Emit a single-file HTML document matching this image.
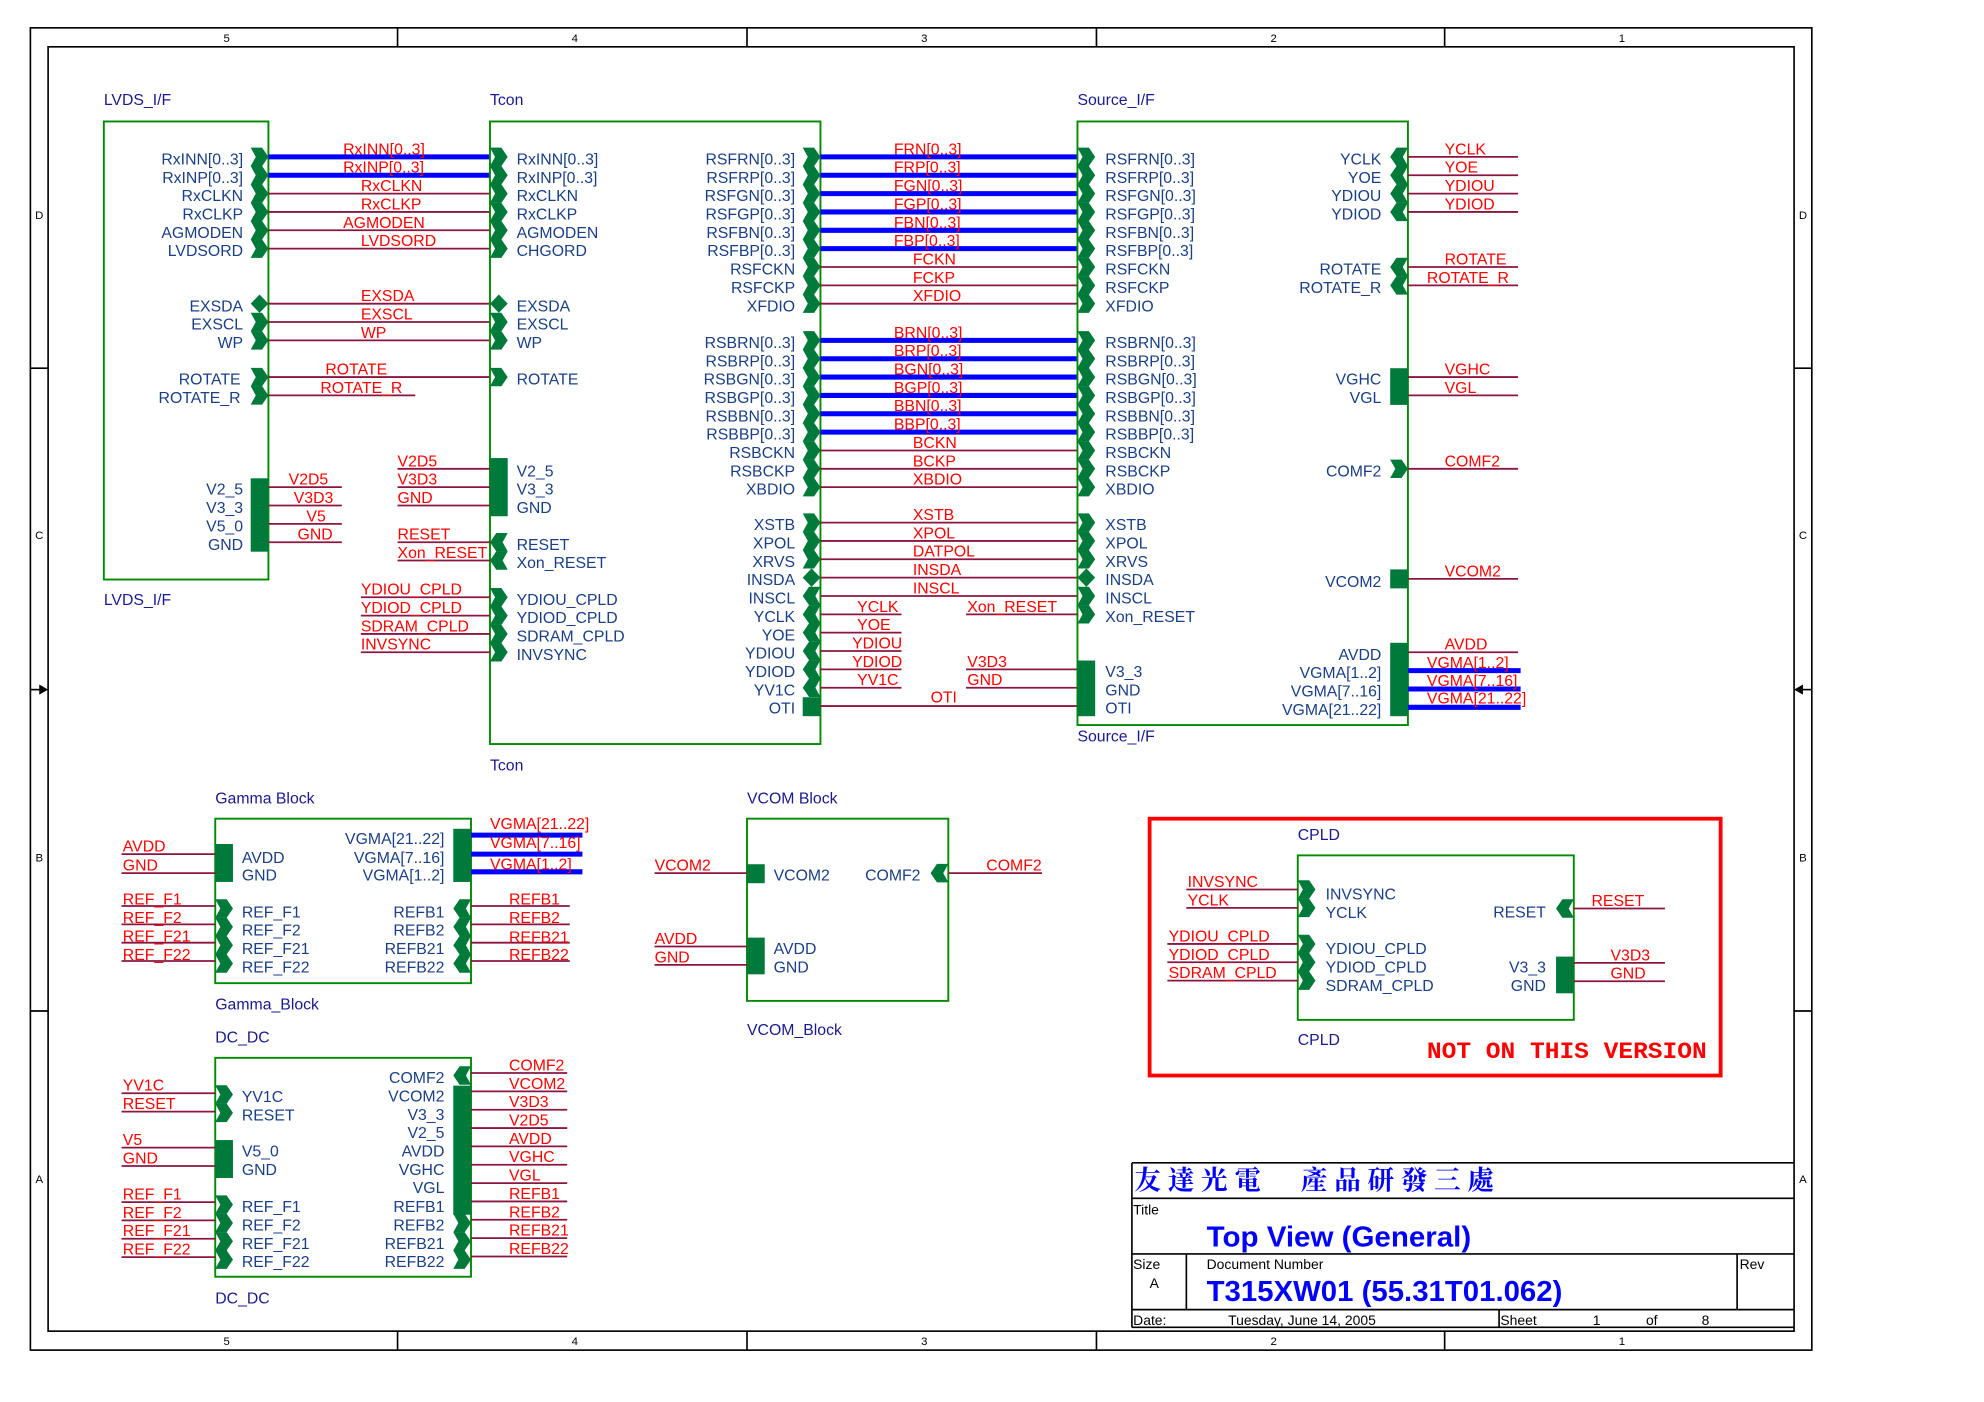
<!DOCTYPE html>
<html><head><meta charset="utf-8"><style>
html,body{margin:0;padding:0;background:#fff;}
svg{display:block;}
text{font-family:"Liberation Sans","Noto Sans CJK TC",sans-serif;font-size:12.5px;}
.b{fill:#1a3f86;}
.t{fill:#1a1a90;}
.r{fill:#ff0000;}
.e{text-anchor:end;}
.k{fill:#000;font-size:9px;text-anchor:middle;}
.w{stroke:#8a1540;stroke-width:1.4;fill:none;}
.bus{stroke:#0000ff;stroke-width:4;fill:none;}
.box{stroke:#008a00;stroke-width:1.5;fill:none;}
.g{fill:#007a3a;}
.f{stroke:#000;stroke-width:1.3;fill:none;}
</style></head><body>
<svg width="1984" height="1402" viewBox="0 0 1567 1108" preserveAspectRatio="none" xmlns="http://www.w3.org/2000/svg">
<defs>
<polygon id="pr" class="g" points="0,-7.3 9,-7.3 14,0 9,7.3 0,7.3 4,0"/>
<polygon id="pl" class="g" points="14,-7.3 5,-7.3 0,0 5,7.3 14,7.3 10,0"/>
<polygon id="pd" class="g" points="0,0 7,-7.3 14,0 7,7.3"/>
</defs>
<rect width="1567" height="1108" fill="#fff"/>
<!-- frame -->
<rect x="24" y="22" width="1407" height="1045" class="f"/>
<rect x="38" y="37" width="1379" height="1015" class="f"/>
<g class="f">
<line x1="314" y1="22" x2="314" y2="37"/><line x1="590" y1="22" x2="590" y2="37"/><line x1="866" y1="22" x2="866" y2="37"/><line x1="1141" y1="22" x2="1141" y2="37"/>
<line x1="314" y1="1052" x2="314" y2="1067"/><line x1="590" y1="1052" x2="590" y2="1067"/><line x1="866" y1="1052" x2="866" y2="1067"/><line x1="1141" y1="1052" x2="1141" y2="1067"/>
<line x1="24" y1="291" x2="38" y2="291"/><line x1="24" y1="799" x2="38" y2="799"/>
<line x1="1417" y1="291" x2="1431" y2="291"/><line x1="1417" y1="799" x2="1431" y2="799"/>
<line x1="24" y1="545" x2="32" y2="545"/><line x1="1423" y1="545" x2="1431" y2="545"/>
</g>
<polygon points="31,541 38,545 31,549" fill="#000"/>
<polygon points="1424,541 1417,545 1424,549" fill="#000"/>
<text x="179" y="33" class="k">5</text><text x="454" y="33" class="k">4</text><text x="730" y="33" class="k">3</text><text x="1006" y="33" class="k">2</text><text x="1281" y="33" class="k">1</text>
<text x="179" y="1063" class="k">5</text><text x="454" y="1063" class="k">4</text><text x="730" y="1063" class="k">3</text><text x="1006" y="1063" class="k">2</text><text x="1281" y="1063" class="k">1</text>
<text x="31" y="173" class="k">D</text><text x="31" y="426" class="k">C</text><text x="31" y="681" class="k">B</text><text x="31" y="935" class="k">A</text>
<text x="1424" y="173" class="k">D</text><text x="1424" y="426" class="k">C</text><text x="1424" y="681" class="k">B</text><text x="1424" y="935" class="k">A</text>

<!-- LVDS_I/F -->
<text x="82" y="83" class="t">LVDS_I/F</text><text x="82" y="478" class="t">LVDS_I/F</text>
<rect x="82" y="96" width="130" height="362" class="box"/>
<g class="b e">
<text x="192" y="130">RxINN[0..3]</text><text x="192" y="144.5">RxINP[0..3]</text><text x="192" y="159">RxCLKN</text><text x="192" y="173.5">RxCLKP</text><text x="192" y="188">AGMODEN</text><text x="192" y="202.5">LVDSORD</text>
<text x="192" y="246">EXSDA</text><text x="192" y="260.5">EXSCL</text><text x="192" y="275">WP</text>
<text x="190" y="304">ROTATE</text><text x="190" y="318.5">ROTATE_R</text>
<text x="192" y="391">V2_5</text><text x="192" y="405.5">V3_3</text><text x="192" y="420">V5_0</text><text x="192" y="434.5">GND</text>
</g>
<use href="#pr" x="198" y="124"/><use href="#pr" x="198" y="138.5"/><use href="#pr" x="198" y="153"/><use href="#pr" x="198" y="167.5"/><use href="#pr" x="198" y="182"/><use href="#pr" x="198" y="196.5"/>
<use href="#pd" x="198" y="240"/><use href="#pr" x="198" y="254.5"/><use href="#pr" x="198" y="269"/>
<use href="#pr" x="198" y="298"/><use href="#pr" x="198" y="312.5"/>
<rect x="198" y="378" width="14" height="58" class="g"/>
<g class="w">
<line x1="212" y1="153" x2="387" y2="153"/><line x1="212" y1="167.5" x2="387" y2="167.5"/><line x1="212" y1="182" x2="387" y2="182"/><line x1="212" y1="196.5" x2="387" y2="196.5"/>
<line x1="212" y1="240" x2="387" y2="240"/><line x1="212" y1="254.5" x2="387" y2="254.5"/><line x1="212" y1="269" x2="387" y2="269"/>
<line x1="212" y1="298" x2="387" y2="298"/><line x1="212" y1="312.5" x2="328" y2="312.5"/>
<line x1="212" y1="385" x2="270" y2="385"/><line x1="212" y1="399.5" x2="270" y2="399.5"/><line x1="212" y1="414" x2="270" y2="414"/><line x1="212" y1="428.5" x2="270" y2="428.5"/>
</g>
<line x1="212" y1="124" x2="387" y2="124" class="bus"/><line x1="212" y1="138.5" x2="387" y2="138.5" class="bus"/>
<g class="r">
<text x="271" y="122">RxINN[0..3]</text><text x="271" y="136.5">RxINP[0..3]</text><text x="285" y="151">RxCLKN</text><text x="285" y="165.5">RxCLKP</text><text x="271" y="180">AGMODEN</text><text x="285" y="194.5">LVDSORD</text>
<text x="285" y="238">EXSDA</text><text x="285" y="252.5">EXSCL</text><text x="285" y="267">WP</text>
<text x="257" y="296">ROTATE</text><text x="253" y="310.5">ROTATE_R</text>
<text x="228" y="383">V2D5</text><text x="232" y="397.5">V3D3</text><text x="242" y="412">V5</text><text x="235" y="426.5">GND</text>
</g>

<!-- Tcon -->
<text x="387" y="83" class="t">Tcon</text><text x="387" y="609" class="t">Tcon</text>
<rect x="387" y="96" width="261" height="492" class="box"/>
<g class="b">
<text x="408" y="130">RxINN[0..3]</text><text x="408" y="144.5">RxINP[0..3]</text><text x="408" y="159">RxCLKN</text><text x="408" y="173.5">RxCLKP</text><text x="408" y="188">AGMODEN</text><text x="408" y="202.5">CHGORD</text>
<text x="408" y="246">EXSDA</text><text x="408" y="260.5">EXSCL</text><text x="408" y="275">WP</text><text x="408" y="304">ROTATE</text>
<text x="408" y="376.5">V2_5</text><text x="408" y="391">V3_3</text><text x="408" y="405.5">GND</text>
<text x="408" y="434.5">RESET</text><text x="408" y="449">Xon_RESET</text>
<text x="408" y="478">YDIOU_CPLD</text><text x="408" y="492.5">YDIOD_CPLD</text><text x="408" y="507">SDRAM_CPLD</text><text x="408" y="521.5">INVSYNC</text>
</g>
<use href="#pr" x="387" y="124"/><use href="#pr" x="387" y="138.5"/><use href="#pr" x="387" y="153"/><use href="#pr" x="387" y="167.5"/><use href="#pr" x="387" y="182"/><use href="#pr" x="387" y="196.5"/>
<use href="#pd" x="387" y="240"/><use href="#pr" x="387" y="254.5"/><use href="#pr" x="387" y="269"/><use href="#pr" x="387" y="298"/>
<rect x="387" y="362" width="14" height="46" class="g"/>
<use href="#pl" x="387" y="428.5"/><use href="#pl" x="387" y="443"/>
<use href="#pr" x="387" y="472"/><use href="#pr" x="387" y="486.5"/><use href="#pr" x="387" y="501"/><use href="#pr" x="387" y="515.5"/>
<g class="w">
<line x1="314" y1="370.5" x2="387" y2="370.5"/><line x1="314" y1="385" x2="387" y2="385"/><line x1="314" y1="399.5" x2="387" y2="399.5"/>
<line x1="314" y1="428.5" x2="387" y2="428.5"/><line x1="314" y1="443" x2="387" y2="443"/>
<line x1="285" y1="472" x2="387" y2="472"/><line x1="285" y1="486.5" x2="387" y2="486.5"/><line x1="285" y1="501" x2="387" y2="501"/><line x1="285" y1="515.5" x2="387" y2="515.5"/>
</g>
<g class="r">
<text x="314" y="368.5">V2D5</text><text x="314" y="383">V3D3</text><text x="314" y="397.5">GND</text>
<text x="314" y="426.5">RESET</text><text x="314" y="441">Xon_RESET</text>
<text x="285" y="470">YDIOU_CPLD</text><text x="285" y="484.5">YDIOD_CPLD</text><text x="285" y="499">SDRAM_CPLD</text><text x="285" y="513.5">INVSYNC</text>
</g>
<g class="b e">
<text x="628" y="130">RSFRN[0..3]</text><text x="628" y="144.5">RSFRP[0..3]</text><text x="628" y="159">RSFGN[0..3]</text><text x="628" y="173.5">RSFGP[0..3]</text><text x="628" y="188">RSFBN[0..3]</text><text x="628" y="202.5">RSFBP[0..3]</text><text x="628" y="217">RSFCKN</text><text x="628" y="231.5">RSFCKP</text><text x="628" y="246">XFDIO</text>
<text x="628" y="275">RSBRN[0..3]</text><text x="628" y="289.5">RSBRP[0..3]</text><text x="628" y="304">RSBGN[0..3]</text><text x="628" y="318.5">RSBGP[0..3]</text><text x="628" y="333">RSBBN[0..3]</text><text x="628" y="347.5">RSBBP[0..3]</text><text x="628" y="362">RSBCKN</text><text x="628" y="376.5">RSBCKP</text><text x="628" y="391">XBDIO</text>
<text x="628" y="419">XSTB</text><text x="628" y="433.5">XPOL</text><text x="628" y="448">XRVS</text><text x="628" y="462.5">INSDA</text><text x="628" y="477">INSCL</text><text x="628" y="491.5">YCLK</text><text x="628" y="506">YOE</text><text x="628" y="520.5">YDIOU</text><text x="628" y="535">YDIOD</text><text x="628" y="549.5">YV1C</text><text x="628" y="564">OTI</text>
</g>
<g>
<use href="#pr" x="634" y="124"/><use href="#pr" x="634" y="138.5"/><use href="#pr" x="634" y="153"/><use href="#pr" x="634" y="167.5"/><use href="#pr" x="634" y="182"/><use href="#pr" x="634" y="196.5"/><use href="#pr" x="634" y="211"/><use href="#pr" x="634" y="225.5"/><use href="#pr" x="634" y="240"/>
<use href="#pr" x="634" y="269"/><use href="#pr" x="634" y="283.5"/><use href="#pr" x="634" y="298"/><use href="#pr" x="634" y="312.5"/><use href="#pr" x="634" y="327"/><use href="#pr" x="634" y="341.5"/><use href="#pr" x="634" y="356"/><use href="#pr" x="634" y="370.5"/><use href="#pr" x="634" y="385"/>
<use href="#pr" x="634" y="413"/><use href="#pr" x="634" y="427.5"/><use href="#pr" x="634" y="442"/><use href="#pd" x="634" y="456.5"/><use href="#pl" x="634" y="471"/><use href="#pl" x="634" y="485.5"/><use href="#pl" x="634" y="500"/><use href="#pl" x="634" y="514.5"/><use href="#pl" x="634" y="529"/><use href="#pl" x="634" y="543.5"/>
<rect x="634" y="551" width="14" height="15" class="g"/>
</g>
<!-- Tcon to Source wires -->
<g class="bus">
<line x1="648" y1="124" x2="851" y2="124"/><line x1="648" y1="138.5" x2="851" y2="138.5"/><line x1="648" y1="153" x2="851" y2="153"/><line x1="648" y1="167.5" x2="851" y2="167.5"/><line x1="648" y1="182" x2="851" y2="182"/><line x1="648" y1="196.5" x2="851" y2="196.5"/>
<line x1="648" y1="269" x2="851" y2="269"/><line x1="648" y1="283.5" x2="851" y2="283.5"/><line x1="648" y1="298" x2="851" y2="298"/><line x1="648" y1="312.5" x2="851" y2="312.5"/><line x1="648" y1="327" x2="851" y2="327"/><line x1="648" y1="341.5" x2="851" y2="341.5"/>
</g>
<g class="w">
<line x1="648" y1="211" x2="851" y2="211"/><line x1="648" y1="225.5" x2="851" y2="225.5"/><line x1="648" y1="240" x2="851" y2="240"/>
<line x1="648" y1="356" x2="851" y2="356"/><line x1="648" y1="370.5" x2="851" y2="370.5"/><line x1="648" y1="385" x2="851" y2="385"/>
<line x1="648" y1="413" x2="851" y2="413"/><line x1="648" y1="427.5" x2="851" y2="427.5"/><line x1="648" y1="442" x2="851" y2="442"/><line x1="648" y1="456.5" x2="851" y2="456.5"/><line x1="648" y1="471" x2="851" y2="471"/>
<line x1="763" y1="485.5" x2="851" y2="485.5"/>
<line x1="648" y1="485.5" x2="712" y2="485.5"/><line x1="648" y1="500" x2="712" y2="500"/><line x1="648" y1="514.5" x2="712" y2="514.5"/><line x1="648" y1="529" x2="712" y2="529"/><line x1="648" y1="543.5" x2="712" y2="543.5"/>
<line x1="763" y1="529" x2="851" y2="529"/><line x1="763" y1="543.5" x2="851" y2="543.5"/>
<line x1="648" y1="558" x2="851" y2="558"/>
</g>
<g class="r">
<text x="706" y="122">FRN[0..3]</text><text x="706" y="136.5">FRP[0..3]</text><text x="706" y="151">FGN[0..3]</text><text x="706" y="165.5">FGP[0..3]</text><text x="706" y="180">FBN[0..3]</text><text x="706" y="194.5">FBP[0..3]</text><text x="721" y="209">FCKN</text><text x="721" y="223.5">FCKP</text><text x="721" y="238">XFDIO</text>
<text x="706" y="267">BRN[0..3]</text><text x="706" y="281.5">BRP[0..3]</text><text x="706" y="296">BGN[0..3]</text><text x="706" y="310.5">BGP[0..3]</text><text x="706" y="325">BBN[0..3]</text><text x="706" y="339.5">BBP[0..3]</text><text x="721" y="354">BCKN</text><text x="721" y="368.5">BCKP</text><text x="721" y="383">XBDIO</text>
<text x="721" y="411">XSTB</text><text x="721" y="425.5">XPOL</text><text x="721" y="440">DATPOL</text><text x="721" y="454.5">INSDA</text><text x="721" y="469">INSCL</text>
<text x="677" y="483.5">YCLK</text><text x="677" y="498">YOE</text><text x="673" y="512.5">YDIOU</text><text x="673" y="527">YDIOD</text><text x="677" y="541.5">YV1C</text>
<text x="764" y="483.5">Xon_RESET</text><text x="764" y="527">V3D3</text><text x="764" y="541.5">GND</text><text x="735" y="555">OTI</text>
</g>

<!-- Source_I/F -->
<text x="851" y="83" class="t">Source_I/F</text><text x="851" y="586" class="t">Source_I/F</text>
<rect x="851" y="96" width="261" height="477" class="box"/>
<g class="b">
<text x="873" y="130">RSFRN[0..3]</text><text x="873" y="144.5">RSFRP[0..3]</text><text x="873" y="159">RSFGN[0..3]</text><text x="873" y="173.5">RSFGP[0..3]</text><text x="873" y="188">RSFBN[0..3]</text><text x="873" y="202.5">RSFBP[0..3]</text><text x="873" y="217">RSFCKN</text><text x="873" y="231.5">RSFCKP</text><text x="873" y="246">XFDIO</text>
<text x="873" y="275">RSBRN[0..3]</text><text x="873" y="289.5">RSBRP[0..3]</text><text x="873" y="304">RSBGN[0..3]</text><text x="873" y="318.5">RSBGP[0..3]</text><text x="873" y="333">RSBBN[0..3]</text><text x="873" y="347.5">RSBBP[0..3]</text><text x="873" y="362">RSBCKN</text><text x="873" y="376.5">RSBCKP</text><text x="873" y="391">XBDIO</text>
<text x="873" y="419">XSTB</text><text x="873" y="433.5">XPOL</text><text x="873" y="448">XRVS</text><text x="873" y="462.5">INSDA</text><text x="873" y="477">INSCL</text><text x="873" y="491.5">Xon_RESET</text>
<text x="873" y="535">V3_3</text><text x="873" y="549.5">GND</text><text x="873" y="564">OTI</text>
</g>
<g>
<use href="#pr" x="851" y="124"/><use href="#pr" x="851" y="138.5"/><use href="#pr" x="851" y="153"/><use href="#pr" x="851" y="167.5"/><use href="#pr" x="851" y="182"/><use href="#pr" x="851" y="196.5"/><use href="#pr" x="851" y="211"/><use href="#pr" x="851" y="225.5"/><use href="#pr" x="851" y="240"/>
<use href="#pr" x="851" y="269"/><use href="#pr" x="851" y="283.5"/><use href="#pr" x="851" y="298"/><use href="#pr" x="851" y="312.5"/><use href="#pr" x="851" y="327"/><use href="#pr" x="851" y="341.5"/><use href="#pr" x="851" y="356"/><use href="#pr" x="851" y="370.5"/><use href="#pr" x="851" y="385"/>
<use href="#pr" x="851" y="413"/><use href="#pr" x="851" y="427.5"/><use href="#pr" x="851" y="442"/><use href="#pd" x="851" y="456.5"/><use href="#pr" x="851" y="471"/><use href="#pr" x="851" y="485.5"/>
<rect x="851" y="522" width="14" height="44" class="g"/>
</g>
<g class="b e">
<text x="1091" y="130">YCLK</text><text x="1091" y="144.5">YOE</text><text x="1091" y="159">YDIOU</text><text x="1091" y="173.5">YDIOD</text>
<text x="1091" y="217">ROTATE</text><text x="1091" y="231.5">ROTATE_R</text>
<text x="1091" y="304">VGHC</text><text x="1091" y="318.5">VGL</text>
<text x="1091" y="376.5">COMF2</text><text x="1091" y="464">VCOM2</text>
<text x="1091" y="521.5">AVDD</text><text x="1091" y="536">VGMA[1..2]</text><text x="1091" y="550.5">VGMA[7..16]</text><text x="1091" y="565">VGMA[21..22]</text>
</g>
<use href="#pl" x="1098" y="124"/><use href="#pl" x="1098" y="138.5"/><use href="#pl" x="1098" y="153"/><use href="#pl" x="1098" y="167.5"/>
<use href="#pl" x="1098" y="211"/><use href="#pl" x="1098" y="225.5"/>
<rect x="1098" y="291" width="14" height="29" class="g"/>
<use href="#pr" x="1098" y="370.5"/>
<rect x="1098" y="450" width="14" height="15" class="g"/>
<rect x="1098" y="508" width="14" height="58" class="g"/>
<g class="w">
<line x1="1112" y1="124" x2="1199" y2="124"/><line x1="1112" y1="138.5" x2="1199" y2="138.5"/><line x1="1112" y1="153" x2="1199" y2="153"/><line x1="1112" y1="167.5" x2="1199" y2="167.5"/>
<line x1="1112" y1="211" x2="1199" y2="211"/><line x1="1112" y1="225.5" x2="1199" y2="225.5"/>
<line x1="1112" y1="298" x2="1199" y2="298"/><line x1="1112" y1="312.5" x2="1199" y2="312.5"/>
<line x1="1112" y1="370.5" x2="1199" y2="370.5"/><line x1="1112" y1="457.5" x2="1199" y2="457.5"/><line x1="1112" y1="515.5" x2="1199" y2="515.5"/>
</g>
<g class="bus"><line x1="1112" y1="530" x2="1201" y2="530"/><line x1="1112" y1="544.5" x2="1201" y2="544.5"/><line x1="1112" y1="559" x2="1201" y2="559"/></g>
<g class="r">
<text x="1141" y="122">YCLK</text><text x="1141" y="136.5">YOE</text><text x="1141" y="151">YDIOU</text><text x="1141" y="165.5">YDIOD</text>
<text x="1141" y="209">ROTATE</text><text x="1127" y="223.5">ROTATE_R</text>
<text x="1141" y="296">VGHC</text><text x="1141" y="310.5">VGL</text><text x="1141" y="368.5">COMF2</text><text x="1141" y="455.5">VCOM2</text>
<text x="1141" y="513.5">AVDD</text><text x="1127" y="528">VGMA[1..2]</text><text x="1127" y="542">VGMA[7..16]</text><text x="1127" y="556">VGMA[21..22]</text>
</g>

<!-- Gamma Block -->
<text x="170" y="635" class="t">Gamma Block</text><text x="170" y="798" class="t">Gamma_Block</text>
<rect x="170" y="647" width="202" height="130" class="box"/>
<rect x="170" y="667" width="14" height="30" class="g"/>
<use href="#pr" x="170" y="718"/><use href="#pr" x="170" y="732.5"/><use href="#pr" x="170" y="747"/><use href="#pr" x="170" y="761.5"/>
<rect x="358" y="655" width="14" height="42" class="g"/>
<use href="#pl" x="358" y="718"/><use href="#pl" x="358" y="732.5"/><use href="#pl" x="358" y="747"/><use href="#pl" x="358" y="761.5"/>
<g class="b">
<text x="191" y="682">AVDD</text><text x="191" y="696">GND</text>
<text x="191" y="725">REF_F1</text><text x="191" y="739.5">REF_F2</text><text x="191" y="754">REF_F21</text><text x="191" y="768.5">REF_F22</text>
</g>
<g class="b e">
<text x="351" y="667">VGMA[21..22]</text><text x="351" y="682">VGMA[7..16]</text><text x="351" y="696">VGMA[1..2]</text>
<text x="351" y="725">REFB1</text><text x="351" y="739.5">REFB2</text><text x="351" y="754">REFB21</text><text x="351" y="768.5">REFB22</text>
</g>
<g class="w">
<line x1="96" y1="675" x2="170" y2="675"/><line x1="96" y1="690" x2="170" y2="690"/>
<line x1="96" y1="716" x2="170" y2="716"/><line x1="96" y1="730.5" x2="170" y2="730.5"/><line x1="96" y1="745" x2="170" y2="745"/><line x1="96" y1="759.5" x2="170" y2="759.5"/>
<line x1="372" y1="716" x2="450" y2="716"/><line x1="372" y1="730.5" x2="450" y2="730.5"/><line x1="372" y1="745" x2="450" y2="745"/><line x1="372" y1="759.5" x2="450" y2="759.5"/>
</g>
<g class="bus"><line x1="372" y1="660" x2="460" y2="660"/><line x1="372" y1="675" x2="460" y2="675"/><line x1="372" y1="689" x2="460" y2="689"/></g>
<g class="r">
<text x="97" y="673">AVDD</text><text x="97" y="688">GND</text>
<text x="97" y="715">REF_F1</text><text x="97" y="729.5">REF_F2</text><text x="97" y="744">REF_F21</text><text x="97" y="758.5">REF_F22</text>
<text x="387" y="655">VGMA[21..22]</text><text x="387" y="670">VGMA[7..16]</text><text x="387" y="687">VGMA[1..2]</text>
<text x="402" y="715">REFB1</text><text x="402" y="729.5">REFB2</text><text x="402" y="745">REFB21</text><text x="402" y="758.5">REFB22</text>
</g>

<!-- VCOM Block -->
<text x="590" y="635" class="t">VCOM Block</text><text x="590" y="818" class="t">VCOM_Block</text>
<rect x="590" y="647" width="159" height="144" class="box"/>
<rect x="590" y="683" width="14" height="15" class="g"/>
<use href="#pl" x="735" y="690"/>
<rect x="590" y="741" width="14" height="29" class="g"/>
<g class="b"><text x="611" y="696">VCOM2</text><text x="611" y="754">AVDD</text><text x="611" y="768.5">GND</text></g>
<text x="727" y="696" class="b e">COMF2</text>
<g class="w">
<line x1="517" y1="690" x2="590" y2="690"/><line x1="517" y1="748" x2="590" y2="748"/><line x1="517" y1="762.5" x2="590" y2="762.5"/><line x1="749" y1="690" x2="823" y2="690"/>
</g>
<g class="r"><text x="517" y="688">VCOM2</text><text x="517" y="746">AVDD</text><text x="517" y="760.5">GND</text><text x="779" y="688">COMF2</text></g>

<!-- DC_DC -->
<text x="170" y="824" class="t">DC_DC</text><text x="170" y="1030" class="t">DC_DC</text>
<rect x="170" y="836" width="202" height="173" class="box"/>
<use href="#pr" x="170" y="865"/><use href="#pr" x="170" y="879.5"/>
<rect x="170" y="901" width="14" height="30" class="g"/>
<use href="#pr" x="170" y="952"/><use href="#pr" x="170" y="966.5"/><use href="#pr" x="170" y="981"/><use href="#pr" x="170" y="995.5"/>
<use href="#pl" x="358" y="850"/>
<rect x="358" y="858" width="14" height="102" class="g"/>
<use href="#pr" x="358" y="952"/><use href="#pr" x="358" y="966.5"/><use href="#pr" x="358" y="981"/><use href="#pr" x="358" y="995.5"/>
<g class="b">
<text x="191" y="871">YV1C</text><text x="191" y="885.5">RESET</text><text x="191" y="914">V5_0</text><text x="191" y="928.5">GND</text>
<text x="191" y="958">REF_F1</text><text x="191" y="972.5">REF_F2</text><text x="191" y="987">REF_F21</text><text x="191" y="1001.5">REF_F22</text>
</g>
<g class="b e">
<text x="351" y="856">COMF2</text><text x="351" y="870.5">VCOM2</text><text x="351" y="885">V3_3</text><text x="351" y="899.5">V2_5</text><text x="351" y="914">AVDD</text><text x="351" y="928.5">VGHC</text><text x="351" y="943">VGL</text><text x="351" y="958">REFB1</text><text x="351" y="972.5">REFB2</text><text x="351" y="987">REFB21</text><text x="351" y="1001.5">REFB22</text>
</g>
<g class="w">
<line x1="96" y1="864" x2="170" y2="864"/><line x1="96" y1="878.5" x2="170" y2="878.5"/><line x1="96" y1="907" x2="170" y2="907"/><line x1="96" y1="921.5" x2="170" y2="921.5"/>
<line x1="96" y1="950" x2="170" y2="950"/><line x1="96" y1="964.5" x2="170" y2="964.5"/><line x1="96" y1="979" x2="170" y2="979"/><line x1="96" y1="993.5" x2="170" y2="993.5"/>
<line x1="372" y1="848" x2="448" y2="848"/><line x1="372" y1="862.5" x2="448" y2="862.5"/><line x1="372" y1="877" x2="448" y2="877"/><line x1="372" y1="891.5" x2="448" y2="891.5"/><line x1="372" y1="906" x2="448" y2="906"/><line x1="372" y1="920.5" x2="448" y2="920.5"/><line x1="372" y1="935" x2="448" y2="935"/><line x1="372" y1="949.5" x2="448" y2="949.5"/><line x1="372" y1="964" x2="448" y2="964"/><line x1="372" y1="978.5" x2="448" y2="978.5"/><line x1="372" y1="993" x2="448" y2="993"/>
</g>
<g class="r">
<text x="97" y="862">YV1C</text><text x="97" y="876.5">RESET</text><text x="97" y="905">V5</text><text x="97" y="919.5">GND</text>
<text x="97" y="948">REF_F1</text><text x="97" y="962.5">REF_F2</text><text x="97" y="977">REF_F21</text><text x="97" y="991.5">REF_F22</text>
<text x="402" y="846">COMF2</text><text x="402" y="860.5">VCOM2</text><text x="402" y="875">V3D3</text><text x="402" y="889.5">V2D5</text><text x="402" y="904">AVDD</text><text x="402" y="918.5">VGHC</text><text x="402" y="933">VGL</text><text x="402" y="947.5">REFB1</text><text x="402" y="962">REFB2</text><text x="402" y="976.5">REFB21</text><text x="402" y="991">REFB22</text>
</g>

<!-- CPLD -->
<rect x="908" y="647" width="451" height="203" fill="none" stroke="#ff0000" stroke-width="3"/>
<text x="1025" y="664" class="t">CPLD</text><text x="1025" y="826" class="t">CPLD</text>
<rect x="1025" y="676" width="218" height="130" class="box"/>
<use href="#pr" x="1025" y="703"/><use href="#pr" x="1025" y="717.5"/>
<use href="#pr" x="1025" y="746"/><use href="#pr" x="1025" y="760.5"/><use href="#pr" x="1025" y="775"/>
<use href="#pl" x="1229" y="718"/>
<rect x="1229" y="756" width="14" height="29" class="g"/>
<g class="b">
<text x="1047" y="711">INVSYNC</text><text x="1047" y="725.5">YCLK</text>
<text x="1047" y="754">YDIOU_CPLD</text><text x="1047" y="768.5">YDIOD_CPLD</text><text x="1047" y="783">SDRAM_CPLD</text>
</g>
<g class="b e"><text x="1221" y="725">RESET</text><text x="1221" y="768.5">V3_3</text><text x="1221" y="783">GND</text></g>
<g class="w">
<line x1="937" y1="703" x2="1025" y2="703"/><line x1="937" y1="717.5" x2="1025" y2="717.5"/>
<line x1="922" y1="746" x2="1025" y2="746"/><line x1="922" y1="760.5" x2="1025" y2="760.5"/><line x1="922" y1="775" x2="1025" y2="775"/>
<line x1="1243" y1="718" x2="1315" y2="718"/><line x1="1243" y1="761" x2="1315" y2="761"/><line x1="1243" y1="775.5" x2="1315" y2="775.5"/>
</g>
<g class="r">
<text x="938" y="701">INVSYNC</text><text x="938" y="715.5">YCLK</text>
<text x="923" y="744">YDIOU_CPLD</text><text x="923" y="758.5">YDIOD_CPLD</text><text x="923" y="773">SDRAM_CPLD</text>
<text x="1257" y="716">RESET</text><text x="1272" y="759">V3D3</text><text x="1272" y="773.5">GND</text>
</g>
<text x="1127" y="836" fill="#ff0000" textLength="221" lengthAdjust="spacingAndGlyphs" style="font-family:'Liberation Mono',monospace;font-weight:bold;font-size:18px;">NOT ON THIS VERSION</text>

<!-- Title block -->
<g class="f">
<line x1="894" y1="919" x2="1417" y2="919"/><line x1="894" y1="947" x2="1417" y2="947"/><line x1="894" y1="991" x2="1417" y2="991"/><line x1="894" y1="1035" x2="1417" y2="1035"/><line x1="894" y1="1049" x2="1417" y2="1049"/>
<line x1="894" y1="919" x2="894" y2="1049"/>
<line x1="937" y1="991" x2="937" y2="1035"/><line x1="1372" y1="991" x2="1372" y2="1035"/><line x1="1184" y1="1035" x2="1184" y2="1049"/>
</g>
<text x="896" y="940" fill="#0000ff" textLength="284" lengthAdjust="spacing" style="font-family:'Noto Serif CJK SC','Noto Sans CJK TC',serif;font-size:21px;font-weight:bold;">友達光電　產品研發三處</text>
<text x="895" y="960" style="font-size:11px;">Title</text>
<text x="953" y="985" fill="#0000ff" textLength="209" lengthAdjust="spacingAndGlyphs" style="font-size:23px;font-weight:bold;">Top View (General)</text>
<text x="895" y="1003" style="font-size:11px;">Size</text>
<text x="908" y="1018" style="font-size:11px;">A</text>
<text x="953" y="1003" style="font-size:11px;">Document Number</text>
<text x="953" y="1028" fill="#0000ff" textLength="281" lengthAdjust="spacingAndGlyphs" style="font-size:23px;font-weight:bold;">T315XW01 (55.31T01.062)</text>
<text x="1374" y="1003" style="font-size:11px;">Rev</text>
<text x="895" y="1047" style="font-size:11px;">Date:</text>
<text x="970" y="1047" style="font-size:11px;">Tuesday, June 14, 2005</text>
<text x="1185" y="1047" style="font-size:11px;">Sheet</text>
<text x="1258" y="1047" style="font-size:11px;">1</text>
<text x="1300" y="1047" style="font-size:11px;">of</text>
<text x="1344" y="1047" style="font-size:11px;">8</text>
</svg>
</body></html>
